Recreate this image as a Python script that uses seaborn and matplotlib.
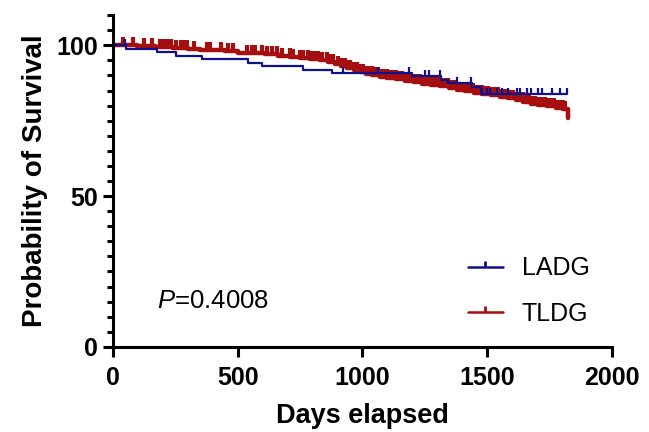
import numpy as np
import pandas as pd
import matplotlib
matplotlib.use("Agg")
import matplotlib.pyplot as plt
from matplotlib.lines import Line2D
from matplotlib.ticker import MultipleLocator
import seaborn as sns

# ---- data ----
ladg_times = [0, 52, 175, 252, 357, 540, 598, 760, 879, 1200, 1315, 1341, 1437, 1475, 1818]
ladg_surv = [100, 98.85, 97.7, 96.55, 95.4, 94.25, 93.1, 91.95, 90.8, 89.65, 88.5, 87.35, 86.2, 84.0, 84.0]
ladg_censor = [48, 923, 1063, 1186, 1250, 1266, 1311, 1377, 1435, 1480, 1498, 1512, 1538, 1560,
               1585, 1618, 1630, 1658, 1675, 1705, 1720, 1758, 1790, 1818]

tldg_times = [0, 95, 170, 240, 300, 350, 400, 450, 500, 560, 610, 660, 710, 750, 790, 830, 860,
              890, 915, 940, 965, 990, 1015, 1040, 1070, 1100, 1135, 1170, 1205, 1240, 1275, 1310,
              1345, 1380, 1410, 1445, 1480, 1515, 1550, 1585, 1615, 1645, 1675, 1705, 1740, 1775,
              1805, 1822]
tldg_surv = [100, 99.8, 99.5, 99.2, 98.9, 98.6, 98.3, 98.0, 97.6, 97.3, 97.0, 96.6, 96.2, 95.9,
             95.5, 95.1, 94.6, 93.9, 93.2, 92.5, 91.8, 91.1, 90.5, 90.0, 89.6, 89.2, 88.7, 88.2,
             87.8, 87.3, 86.9, 86.4, 85.9, 85.2, 84.7, 84.3, 83.9, 83.5, 83.0, 82.4, 81.7, 81.1,
             80.6, 80.2, 79.8, 79.3, 78.8, 75.9]
tldg_censor = [39, 81, 125, 155, 188, 201, 215, 232, 252, 273, 281, 295, 325, 375, 389, 432, 462,
               482, 536, 556, 569, 596, 616, 636, 656, 676, 709, 723, 750, 763, 783, 796, 810, 823,
               836, 857, 870, 883, 903, 917, 930, 942, 951, 965, 978, 990, 1001, 1015, 1024, 1038,
               1050, 1061, 1075, 1088, 1097, 1110, 1124, 1133, 1147, 1160, 1172, 1181, 1195, 1208,
               1219, 1232, 1245, 1256, 1270, 1283, 1292, 1306, 1318, 1330, 1343, 1355, 1367, 1380,
               1391, 1404, 1416, 1430, 1441, 1455, 1468, 1479, 1492, 1505, 1516, 1530, 1542, 1555,
               1567, 1580, 1592, 1605, 1617, 1630, 1642, 1655, 1666, 1680, 1692, 1705, 1717, 1730,
               1741, 1755, 1766, 1780, 1791, 1802, 1813, 1822]

groups = ["LADG", "TLDG"]
colors = {"LADG": "#10108C", "TLDG": "#A50F0F"}
x_ticks = [0, 500, 1000, 1500, 2000]
y_ticks = [0, 50, 100]
p_text = "=0.4008"

# ---- style ----
sns.set_style("ticks")
plt.rcParams["font.family"] = ["Liberation Sans", "DejaVu Sans"]
plt.rcParams["mathtext.fontset"] = "custom"
plt.rcParams["mathtext.it"] = "Liberation Sans:italic"
plt.rcParams["mathtext.rm"] = "Liberation Sans"
for k in ["text.color", "axes.labelcolor", "xtick.color", "ytick.color", "axes.edgecolor"]:
    plt.rcParams[k] = "black"

fig = plt.figure(figsize=(6.49, 4.32), dpi=100)
ax = fig.add_axes([0.174, 0.197, 0.769, 0.768])

tick_marker = [(0, 0), (0, 1)]  # upward censor tick


def step_value(times, surv, t):
    idx = np.searchsorted(np.asarray(times), t, side="right") - 1
    return np.asarray(surv)[idx]


curves = {
    "LADG": (ladg_times, ladg_surv, ladg_censor, 1.6, 1.6, 8),
    "TLDG": (tldg_times, tldg_surv, tldg_censor, 3.2, 3.0, 11),
}

for g in ["TLDG", "LADG"]:
    times, surv, cens, lw, mew, ms = curves[g]
    df = pd.DataFrame({"t": times, "s": surv})
    sns.lineplot(data=df, x="t", y="s", ax=ax, color=colors[g], lw=lw,
                 drawstyle="steps-post", estimator=None, sort=False, legend=False)
    cy = step_value(times, surv, cens)
    ax.plot(cens, cy, linestyle="none", marker=tick_marker, markersize=ms,
            markeredgewidth=mew, color=colors[g])

ax.set_xlim(0, 2000)
ax.set_ylim(0, 110)
ax.set_xticks(x_ticks)
ax.set_yticks(y_ticks)
ax.yaxis.set_minor_locator(MultipleLocator(5))
ax.spines["top"].set_visible(False)
ax.spines["right"].set_visible(False)
for s in ["left", "bottom"]:
    ax.spines[s].set_linewidth(2.2)
    ax.spines[s].set_color("black")
ax.tick_params(axis="both", which="major", length=7, width=2.2, color="black",
               labelsize=18, pad=4, labelcolor="black")
ax.tick_params(axis="x", which="major", pad=7)
ax.tick_params(axis="y", which="minor", length=4.5, width=2.2, color="black")
for lab in ax.get_xticklabels() + ax.get_yticklabels():
    lab.set_fontweight("bold")

ax.set_xlabel("Days elapsed", fontsize=19.5, fontweight="bold", labelpad=9)
ax.set_ylabel("Probability of Survival", fontsize=20, fontweight="bold", labelpad=6)

handles = [Line2D([0], [0], color=colors[g], lw=1.8, marker=tick_marker, markersize=9,
                  markeredgewidth=2.0) for g in groups]
ax.legend(handles, groups, loc="upper left", bbox_to_anchor=(0.711, 0.273), frameon=False,
          fontsize=18, handlelength=1.4, numpoints=1, labelspacing=0.85, handletextpad=0.75,
          borderpad=0, borderaxespad=0)

ax.text(176, 15.3, r"$\mathit{P}$" + p_text, fontsize=18.5, ha="left", va="center")

fig.savefig("out.png", dpi=100)
